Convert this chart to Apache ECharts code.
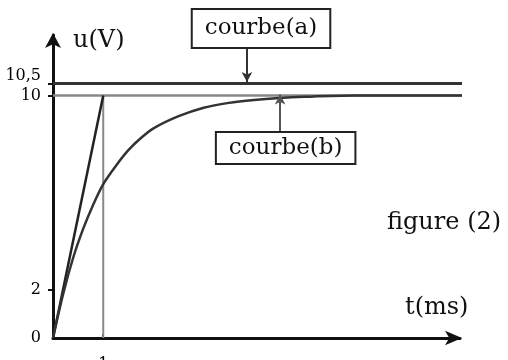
<!DOCTYPE html>
<html><head><meta charset="utf-8">
<script src="https://cdn.jsdelivr.net/npm/echarts@6/dist/echarts.min.js"></script>
<style>html,body{margin:0;padding:0;background:#fff}#c{width:508px;height:360px}</style>
</head><body><div id="c"></div>
<script>
// Data
const yTickValues = [0, 2, 10, 10.5];
const xTickValues = [1];
const tB = [0, 0.2, 0.4, 0.6, 0.8, 1, 1.25, 1.5, 1.75, 2, 2.5, 3, 3.5, 4, 4.5, 5, 6, 7, 8.2];
const uB = [0, 1.8, 3.3, 4.5, 5.5, 6.35, 7.1, 7.75, 8.25, 8.65, 9.15, 9.5, 9.7, 9.82, 9.9, 9.95, 10, 10, 10];
const tA = [0, 8.2];
const uA = [10.5, 10.5];
const tAsym = [0, 8.2];
const uAsym = [10, 10];
const tTangent = [0, 1];
const uTangent = [0, 10];
const tVert = [1, 1];
const uVert = [0, 10];

const pairs = (xs, ys) => xs.map((x, i) => [x, ys[i]]);
const serif = 'DejaVu Serif';

const chart = echarts.init(document.getElementById('c'));
chart.setOption({
  animation: false,
  backgroundColor: '#fff',
  grid: { left: 53, right: 48, top: 35, bottom: 22, containLabel: false, outerBoundsMode: 'none' },
  xAxis: {
    type: 'value', min: 0, max: 8.1,
    axisLine: { show: true, lineStyle: { color: '#111', width: 3 }, symbol: ['none', 'arrow'], symbolSize: [11, 17], symbolOffset: [0, 2] },
    axisTick: { show: true, customValues: xTickValues, length: 4, inside: true, lineStyle: { color: '#111', width: 2 } },
    axisLabel: { customValues: xTickValues, margin: 19, color: '#000', fontFamily: serif, fontSize: 16 },
    splitLine: { show: false }
  },
  yAxis: {
    type: 'value', min: 0, max: 12.5,
    axisLine: { show: true, lineStyle: { color: '#111', width: 3 }, symbol: ['none', 'arrow'], symbolSize: [12, 15], symbolOffset: [0, 2] },
    axisTick: { show: true, customValues: [2, 10, 10.5], length: 5, lineStyle: { color: '#111', width: 2 } },
    axisLabel: { customValues: yTickValues, margin: 12, color: '#000', fontFamily: serif, fontSize: 16, hideOverlap: false,
      formatter: v => v === 10.5 ? '{up|' + String(v).replace('.', ',') + '}' : String(v),
      rich: { up: { fontFamily: serif, fontSize: 16, color: '#000', padding: [0, 0, 16, 0] } } },
    splitLine: { show: false }
  },
  series: [
    { type: 'line', data: pairs(tAsym, uAsym), symbol: 'none', lineStyle: { color: '#888', width: 2.5 }, z: 1,
      markLine: { silent: true, symbol: ['none', 'arrow'], symbolSize: [8, 10],
        lineStyle: { color: '#555', width: 2, type: 'solid' }, label: { show: false },
        data: [[{ coord: [4.52, 8.5] }, { coord: [4.52, 10.05] }]] },
      markPoint: { silent: true, symbol: 'rect', symbolSize: 1, itemStyle: { color: 'rgba(0,0,0,0)' },
        data: [{ coord: [4.63, 7.84], label: { show: true, position: 'inside', formatter: 'courbe(b)', color: '#111',
          fontFamily: serif, fontSize: 23, backgroundColor: '#fff', borderColor: '#222', borderWidth: 2, padding: [4, 12, 3, 12] } }] }
    },
    { type: 'line', data: pairs(tVert, uVert), symbol: 'none', lineStyle: { color: '#888', width: 2 }, z: 1 },
    { type: 'line', data: pairs(tA, uA), symbol: 'none', lineStyle: { color: '#333', width: 3 }, z: 2,
      markLine: { silent: true, symbol: ['none', 'arrow'], symbolSize: [8, 10],
        lineStyle: { color: '#333', width: 2, type: 'solid' }, label: { show: false },
        data: [[{ coord: [3.86, 11.96] }, { coord: [3.86, 10.56] }]] },
      markPoint: { silent: true, symbol: 'rect', symbolSize: 1, itemStyle: { color: 'rgba(0,0,0,0)' },
        data: [{ coord: [4.14, 12.4], label: { show: true, position: 'inside', offset: [0, -9], formatter: 'courbe(a)', color: '#111',
          fontFamily: serif, fontSize: 23, backgroundColor: '#fff', borderColor: '#222', borderWidth: 2, padding: [8, 12, 6, 12] } }] }
    },
    { type: 'line', data: pairs(tTangent, uTangent), symbol: 'none', lineStyle: { color: '#222', width: 2.5 }, z: 3 },
    { type: 'line', data: pairs(tB, uB), symbol: 'none', smooth: 0.3, lineStyle: { color: '#333', width: 2.5 }, z: 3 }
  ],
  graphic: [
    { type: 'text', left: 73, top: 29, style: { text: 'u(V)', font: '24px "DejaVu Serif"', fill: '#111' } },
    { type: 'text', left: 405, top: 296, style: { text: 't(ms)', font: '24px "DejaVu Serif"', fill: '#111' } },
    { type: 'text', left: 387, top: 211, style: { text: 'figure (2)', font: '24px "DejaVu Serif"', fill: '#111' } }
  ]
});
</script></body></html>
